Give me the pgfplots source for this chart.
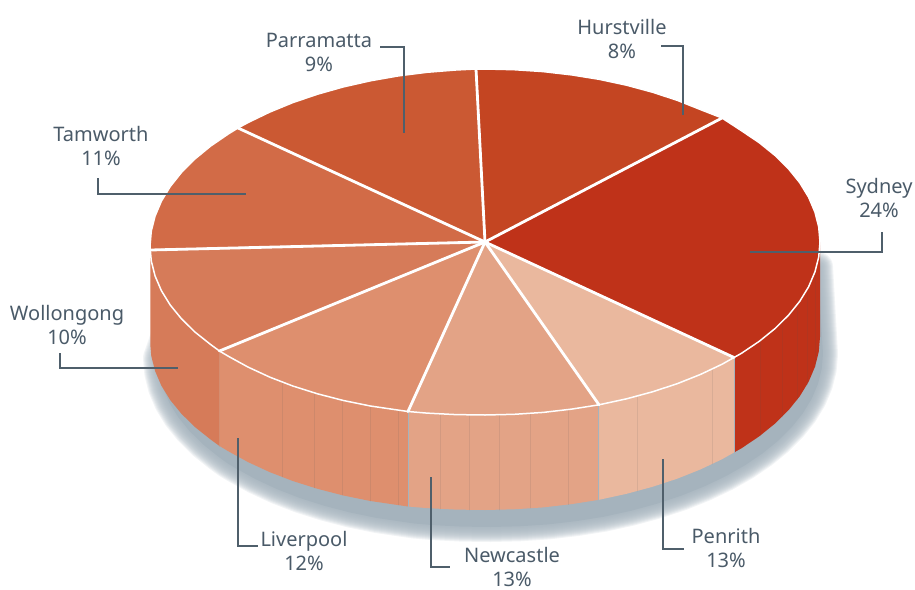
\documentclass[border=0pt]{standalone}
\usepackage{pgfplots}
\pgfplotsset{compat=1.18}
\usepackage{pgfplotstable}
\usepackage{fontspec}
\setmainfont{Noto Sans}
\definecolor{cSyd}{HTML}{BF3219}
\definecolor{cHur}{HTML}{C44522}
\definecolor{cPar}{HTML}{CB5933}
\definecolor{cTam}{HTML}{D26B47}
\definecolor{cWol}{HTML}{D67B59}
\definecolor{cLiv}{HTML}{DE8F6E}
\definecolor{cNew}{HTML}{E3A386}
\definecolor{cPen}{HTML}{EAB89E}
\definecolor{cTxt}{HTML}{4A5A68}
\definecolor{cLead}{HTML}{4F5F6B}
\definecolor{cShad}{HTML}{A5B3BD}
\tikzset{
  lab/.style={font=\fontsize{20}{24}\selectfont,text=cTxt,align=center,inner sep=0pt,anchor=center},
  facet/.style={draw=black!55!cShad,opacity=0.11,line width=0.7pt},
  edge/.style={draw=cShad,line width=1pt},
  rim/.style={draw=white,line width=1.5pt},
  spoke/.style={draw=white,line width=2.8pt},
  leader/.style={draw=cLead,line width=2.2pt,line cap=butt,line join=miter},
}
\pgfplotstableread{
x y
168 290
150 341
150.3 345
151.3 356.1
155.1 371
161.4 385.7
170.2 400
181.4 413.7
194.9 427
210.6 439.5
219.5 446
228.4 451.3
248.1 462.1
269.7 472.1
292.8 481
317.5 488.8
343.4 495.5
370.4 501
398.3 505.1
408 506.5
426.8 508.1
455.8 509.6
485 510
514.2 509.3
543.2 507.4
571.7 504.1
599 499.8
626.6 493.8
652.5 486.8
677.2 478.7
700.3 469.5
721.9 459.3
734 452.5
741.6 448.2
759.4 436.2
775.1 423.5
788.6 410.1
799.8 396.2
808.6 381.8
814.9 367
818.7 352.1
820 337
815 250
}\silhouette
\begin{document}
\begin{tikzpicture}
\begin{axis}[
  width=915pt,height=589pt,scale only axis,
  xmin=0,xmax=915,ymin=0,ymax=589,y dir=reverse,
  hide axis,clip=false,
  every axis plot/.append style={line join=round,line cap=round},
]
\path (axis cs:0,0) rectangle (axis cs:915,589);
% shadow
\pgfplotsinvokeforeach{30,28,26,24,22,20,18,16,14,12,10,8,6,4,2}{
  \addplot[draw=cShad,opacity=0.15,line width=#1pt,fill=none,forget plot]
    table[x expr=490.5+(\thisrow{x}-485)*0.9925,y expr=\thisrow{y}+17]{\silhouette};
}
\addplot[draw=none,fill=cShad,forget plot]
    table[x expr=490.5+(\thisrow{x}-485)*0.9925,y expr=\thisrow{y}+17]{\silhouette} --cycle;
% sides
\addplot[fill=cSyd,draw=none] coordinates {(820,242)(818.7,257.1)(814.9,272)(808.6,286.8)(799.8,301.2)(788.6,315.1)(775.1,328.5)(759.4,341.2)(741.6,353.2)(734,357.5)(734,452.5)(741.6,448.2)(759.4,436.2)(775.1,423.5)(788.6,410.1)(799.8,396.2)(808.6,381.8)(814.9,367)(818.7,352.1)(820,337)} --cycle;
\addplot[fill=cPen,draw=none] coordinates {(734,357.5)(721.9,364.3)(700.3,374.5)(677.2,383.7)(652.5,391.8)(626.6,398.8)(599,404.8)(599,499.8)(626.6,493.8)(652.5,486.8)(677.2,478.7)(700.3,469.5)(721.9,459.3)(734,452.5)} --cycle;
\addplot[fill=cNew,draw=none] coordinates {(599,404.8)(571.7,409.1)(543.2,412.4)(514.2,414.3)(485,415)(455.8,414.6)(426.8,413.1)(408,411.5)(408,506.5)(426.8,508.1)(455.8,509.6)(485,510)(514.2,509.3)(543.2,507.4)(571.7,504.1)(599,499.8)} --cycle;
\addplot[fill=cLiv,draw=none] coordinates {(408,411.5)(398.3,410.1)(370.4,406)(343.4,400.5)(317.5,393.8)(292.8,386)(269.7,377.1)(248.1,367.1)(228.4,356.3)(219.5,351)(219.5,446)(228.4,451.3)(248.1,462.1)(269.7,472.1)(292.8,481)(317.5,488.8)(343.4,495.5)(370.4,501)(398.3,505.1)(408,506.5)} --cycle;
\addplot[fill=cWol,draw=none] coordinates {(219.5,351)(210.6,344.5)(194.9,332)(181.4,318.7)(170.2,305)(161.4,290.7)(155.1,276)(151.3,261.1)(150.3,250)(150.3,345)(151.3,356.1)(155.1,371)(161.4,385.7)(170.2,400)(181.4,413.7)(194.9,427)(210.6,439.5)(219.5,446)} --cycle;
% facet lines on the sides
\addplot[facet] coordinates {(760,340.8)(760,435.8)};
\addplot[facet] coordinates {(782,321.9)(782,416.9)};
\addplot[facet] coordinates {(797,305)(797,400)};
\addplot[facet] coordinates {(807,289.8)(807,384.8)};
\addplot[facet] coordinates {(815,271.8)(815,366.8)};
\addplot[facet] coordinates {(282,382)(282,477)};
\addplot[facet] coordinates {(314,392.8)(314,487.8)};
\addplot[facet] coordinates {(342,400)(342,495)};
\addplot[facet] coordinates {(370,406)(370,501)};
\addplot[facet] coordinates {(398,410)(398,505)};
\addplot[facet] coordinates {(440,414)(440,509)};
\addplot[facet] coordinates {(469,414.8)(469,510)};
\addplot[facet] coordinates {(499,414.9)(499,510)};
\addplot[facet] coordinates {(530,413.4)(530,508)};
\addplot[facet] coordinates {(568,409.6)(568,504.6)};
\addplot[facet] coordinates {(637,396)(637,491)};
\addplot[facet] coordinates {(712,369.2)(712,464)};
\addplot[edge] coordinates {(734,357.5)(734,452.5)};
\addplot[edge] coordinates {(598.5,404.9)(598.5,499.9)};
\addplot[edge] coordinates {(408,411.5)(408,506.5)};
\addplot[draw=cLiv!90!gray,line width=0.8pt] coordinates {(219.5,351)(219.5,446)};
% top faces
\addplot[fill=cSyd,rim] coordinates {(485,242)(722,118)(741.6,130.8)(759.4,142.8)(775.1,155.5)(788.6,168.9)(799.8,182.8)(808.6,197.2)(814.9,212)(818.7,226.9)(820,242)(818.7,257.1)(814.9,272)(808.6,286.8)(799.8,301.2)(788.6,315.1)(775.1,328.5)(759.4,341.2)(741.6,353.2)(734,357.5)} --cycle;
\addplot[fill=cHur,rim] coordinates {(485,242)(476,69)(485,69)(514.2,69.7)(543.2,71.6)(571.7,74.9)(599.6,79.4)(626.6,85.2)(652.5,92.2)(677.2,100.3)(700.3,109.5)(722,118)} --cycle;
\addplot[fill=cPar,rim] coordinates {(485,242)(238,128)(248.1,122.5)(269.7,112.1)(292.8,102.6)(317.5,94.2)(343.4,86.9)(370.4,80.8)(398.3,75.9)(426.8,72.3)(455.8,70)(476,69)} --cycle;
\addplot[fill=cTam,rim] coordinates {(485,242)(150.3,250)(150,246)(151.3,230.9)(155.1,216)(161.4,201.1)(170.2,186.6)(181.4,172.5)(194.9,159)(210.6,146.1)(228.4,133.9)(238,128)} --cycle;
\addplot[fill=cWol,rim] coordinates {(485,242)(219.5,351)(210.6,344.5)(194.9,332)(181.4,318.7)(170.2,305)(161.4,290.7)(155.1,276)(151.3,261.1)(150.3,250)} --cycle;
\addplot[fill=cLiv,rim] coordinates {(485,242)(408,411.5)(398.3,410.1)(370.4,406)(343.4,400.5)(317.5,393.8)(292.8,386)(269.7,377.1)(248.1,367.1)(228.4,356.3)(219.5,351)} --cycle;
\addplot[fill=cNew,rim] coordinates {(485,242)(599,404.8)(571.7,409.1)(543.2,412.4)(514.2,414.3)(485,415)(455.8,414.6)(426.8,413.1)(408,411.5)} --cycle;
\addplot[fill=cPen,rim] coordinates {(485,242)(734,357.5)(721.9,364.3)(700.3,374.5)(677.2,383.7)(652.5,391.8)(626.6,398.8)(599,404.8)} --cycle;
% spokes
\addplot[spoke] coordinates {(485,242)(722,118)};
\addplot[spoke] coordinates {(485,242)(476,69)};
\addplot[spoke] coordinates {(485,242)(238,128)};
\addplot[spoke] coordinates {(485,242)(150.3,250)};
\addplot[spoke] coordinates {(485,242)(219.5,351)};
\addplot[spoke] coordinates {(485,242)(408,411.5)};
\addplot[spoke] coordinates {(485,242)(599,404.8)};
\addplot[spoke] coordinates {(485,242)(734,357.5)};
% leaders
\addplot[leader] coordinates {(380,47)(404,47)(404,133)};
\addplot[leader] coordinates {(661,46)(683,46)(683,115)};
\addplot[leader] coordinates {(98,178)(98,194)(246,194)};
\addplot[leader] coordinates {(750,252)(882,252)(882,232)};
\addplot[leader] coordinates {(60,353)(60,368)(178,368)};
\addplot[leader] coordinates {(238,438)(238,546)(258,546)};
\addplot[leader] coordinates {(431,477)(431,567)(450,567)};
\addplot[leader] coordinates {(663,459)(663,549)(684,549)};
% labels
\node[lab] at (axis cs:319,52) {Parramatta\\9\%};
\node[lab] at (axis cs:622,39) {Hurstville\\8\%};
\node[lab] at (axis cs:101,146) {Tamworth\\11\%};
\node[lab] at (axis cs:879,198) {Sydney\\24\%};
\node[lab] at (axis cs:67,325) {Wollongong\\10\%};
\node[lab] at (axis cs:304,551) {Liverpool\\12\%};
\node[lab] at (axis cs:512,567) {Newcastle\\13\%};
\node[lab] at (axis cs:726,548) {Penrith\\13\%};
\end{axis}
\end{tikzpicture}
\end{document}
